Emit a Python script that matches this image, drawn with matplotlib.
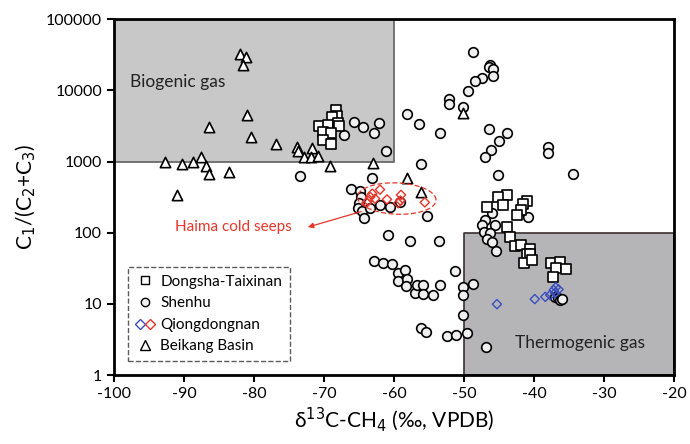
import numpy as np
import matplotlib

matplotlib.use("Agg")
import matplotlib.pyplot as plt
from matplotlib.lines import Line2D
from matplotlib.legend_handler import HandlerTuple
from matplotlib.ticker import FixedLocator, FixedFormatter, NullLocator

plt.rcParams["font.family"] = ["Lato", "DejaVu Sans"]
plt.rcParams["axes.unicode_minus"] = False

# delta13C-CH4 (permil) and C1/(C2+C3)
dongsha_x = [-68.3, -68.1, -68.9, -70.7, -69.4, -68.0, -67.8, -70.1, -69.0, -70.2, -69.0,
             -43.9, -45.2, -44.5, -46.7, -41.0, -41.6, -41.8, -42.5, -43.8, -43.5, -42.7,
             -41.8, -40.6, -41.0, -40.6, -41.5, -40.3, -37.6, -36.3, -36.8, -35.4, -37.3]
dongsha_y = [5300, 4350, 4250, 3160, 3250, 3430, 3160, 2630, 2520, 2000, 1750,
             337, 313, 245, 231, 281, 252, 208, 177, 121, 88, 65,
             67, 60, 50, 51, 37, 41, 37, 39, 32, 31, 24]

shenhu_x = [-65.7, -64.4, -62.1, -62.8, -67.1, -61.1, -73.4, -63.2,
            -48.7, -46.3, -46.5, -45.8, -45.9, -47.5, -48.4, -49.5, -52.2, -52.1, -50.1,
            -58.2, -56.4, -53.5, -46.5, -43.9, -45.0, -46.1, -47.0, -45.1, -56.2,
            -38.0, -38.0, -34.5,
            -66.1, -64.9, -64.7, -65.0, -65.1, -64.6, -64.3, -63.4, -62.0, -60.6, -59.1,
            -55.3, -60.8, -57.7, -53.6,
            -62.8, -61.6, -60.3, -59.4, -58.4, -59.4, -58.2, -58.3, -57.0, -56.7, -55.8,
            -55.8, -54.5, -53.5, -51.3, -50.2, -50.2, -50.1, -56.2, -55.4, -52.4, -51.1,
            -49.6, -48.7, -46.9,
            -46.0, -47.0, -47.5, -45.6, -47.2, -46.3, -46.7, -46.0, -45.5, -40.8,
            -37.0, -36.6, -36.3, -36.0]
shenhu_y = [3610, 3070, 3500, 2530, 2350, 1400, 624, 590,
            34000, 22600, 21400, 19700, 15800, 14700, 13600, 9840, 7450, 6340, 5760,
            4630, 3350, 2530, 2850, 2480, 1940, 1450, 1140, 645, 919,
            1610, 1320, 665,
            405, 390, 319, 258, 219, 201, 159, 219, 244, 227, 272,
            171, 92.5, 75.5, 76.2,
            40.3, 37.8, 36.2, 26.8, 29.8, 21.1, 22.1, 17.8, 14.3, 18.4, 18.4,
            13.6, 13.3, 18.4, 28.9, 17.4, 13.3, 6.96, 4.53, 3.98, 3.57, 3.68,
            3.93, 18.8, 2.5,
            188, 149, 130, 128, 103, 100, 83, 74.5, 55.7, 164,
            12.5, 12.0, 11.3, 11.8]

# Qiongdongnan: blue = thermogenic samples, red = Haima cold seeps
qdn_blue_x = [-45.3, -39.9, -38.4, -37.7, -37.2, -36.9, -36.5, -37.0]
qdn_blue_y = [9.94, 11.7, 12.6, 13.3, 15.6, 17.1, 16.0, 14.3]
qdn_red_x = [-62.0, -63.1, -63.4, -63.7, -63.9, -62.7, -61.0, -59.0, -59.1, -59.4, -55.6]
qdn_red_y = [403, 354, 319, 280, 265, 301, 294, 340, 283, 260, 267]

beikang_x = [-82.0, -81.2, -81.6, -81.0, -86.4, -80.4, -76.8, -92.7, -90.2, -88.7,
             -87.5, -86.8, -86.4, -83.6, -91.0, -73.8, -73.7, -71.7, -72.9, -71.9,
             -70.8, -69.2, -63.0, -58.2, -56.1, -50.1]
beikang_y = [32000, 29000, 23000, 4500, 3100, 2200, 1750, 1000, 920, 1000,
             1170, 870, 670, 720, 340, 1600, 1400, 1550, 1170, 1170,
             1200, 870, 960, 580, 370, 4800]

x_ticks = [-100, -90, -80, -70, -60, -50, -40, -30, -20]
y_ticks = [1, 10, 100, 1000, 10000, 100000]
y_tick_labels = ["1", "10", "100", "1000", "10000", "100000"]


def main():
    fig = plt.figure(figsize=(6.9, 4.44), dpi=100)
    ax = fig.add_axes([0.165, 0.155, 0.812, 0.802])
    ax.set_yscale("log")
    ax.set_xlim(-100, -20)
    ax.set_ylim(1, 100000)

    # genetic fields
    ax.fill_between([-100, -60], 1000, 100000, facecolor="#c8c8c8",
                    edgecolor="#606060", linewidth=1.2, zorder=0)
    ax.fill_between([-50, -20], 1, 100, facecolor="#b5b5b8",
                    edgecolor="#3a3030", linewidth=1.2, zorder=0)
    ax.text(-97.7, 13000, "Biogenic gas", fontsize=12.5, va="center", color="#222222")
    ax.text(-42.7, 2.8, "Thermogenic gas", fontsize=12.5, va="center", color="#222222")

    mk = dict(edgecolors="black", linewidths=1.2, zorder=3)
    ax.scatter(shenhu_x, shenhu_y, marker="o", s=48, facecolors="#f0f0f0", **mk)
    ax.scatter(dongsha_x, dongsha_y, marker="s", s=52, facecolors="white", **mk)
    ax.scatter(beikang_x, beikang_y, marker="^", s=55, facecolors="white", **mk)
    ax.scatter(qdn_blue_x, qdn_blue_y, marker="D", s=22, facecolors="none",
               edgecolors="#3a4fbf", linewidths=1.0, zorder=4)
    ax.scatter(qdn_red_x, qdn_red_y, marker="D", s=22, facecolors="none",
               edgecolors="#e8352a", linewidths=1.0, zorder=4)

    # Haima cold seeps ellipse (drawn in log space)
    t = np.linspace(0, 2 * np.pi, 200)
    ex = -59.6 + 5.6 * np.cos(t)
    ey = 10 ** (2.48 + 0.22 * np.sin(t) - 0.02 * np.cos(t))
    ax.plot(ex, ey, color="#e8352a", linestyle=(0, (4, 2)), linewidth=0.9, zorder=5)
    ax.annotate("", xy=(-72.3, 120), xytext=(-64.7, 198),
                arrowprops=dict(arrowstyle="-|>", color="#e8352a", lw=0.9,
                                mutation_scale=8, shrinkA=0, shrinkB=0))
    ax.text(-91.2, 121, "Haima cold seeps", color="#e8352a", fontsize=11, va="center")

    ax.xaxis.set_major_locator(FixedLocator(x_ticks))
    ax.yaxis.set_major_locator(FixedLocator(y_ticks))
    ax.yaxis.set_major_formatter(FixedFormatter(y_tick_labels))
    ax.yaxis.set_minor_locator(NullLocator())
    ax.tick_params(direction="out", length=5, width=1.5, labelsize=11.5, colors="black")
    for spine in ax.spines.values():
        spine.set_linewidth(2)

    ax.set_xlabel(r"δ$^{13}$C-CH$_4$ (‰, VPDB)", fontsize=15, labelpad=3)
    ax.set_ylabel(r"C$_1$/(C$_2$+C$_3$)", fontsize=15, labelpad=6)

    handles = [
        Line2D([], [], marker="s", linestyle="none", markersize=6, markerfacecolor="white",
               markeredgecolor="black", markeredgewidth=1),
        Line2D([], [], marker="o", linestyle="none", markersize=6, markerfacecolor="#f0f0f0",
               markeredgecolor="black", markeredgewidth=1),
        (Line2D([], [], marker="D", linestyle="none", markersize=5, markerfacecolor="none",
                markeredgecolor="#3a4fbf"),
         Line2D([], [], marker="D", linestyle="none", markersize=5, markerfacecolor="none",
                markeredgecolor="#e8352a")),
        Line2D([], [], marker="^", linestyle="none", markersize=7, markerfacecolor="white",
               markeredgecolor="black", markeredgewidth=1),
    ]
    labels = ["Dongsha-Taixinan", "Shenhu", "Qiongdongnan", "Beikang Basin"]
    leg = ax.legend(handles, labels, loc="lower left", bbox_to_anchor=(0.012, 0.018),
                    handler_map={tuple: HandlerTuple(ndivide=None, pad=0.1)},
                    fontsize=11, frameon=True, fancybox=False, handlelength=1.2,
                    handletextpad=0.4, labelspacing=0.5, borderpad=0.5)
    frame = leg.get_frame()
    frame.set_edgecolor("#333333")
    frame.set_linestyle("--")
    frame.set_linewidth(1.0)

    fig.savefig("out.png", dpi=100)
    plt.close(fig)


if __name__ == "__main__":
    main()
